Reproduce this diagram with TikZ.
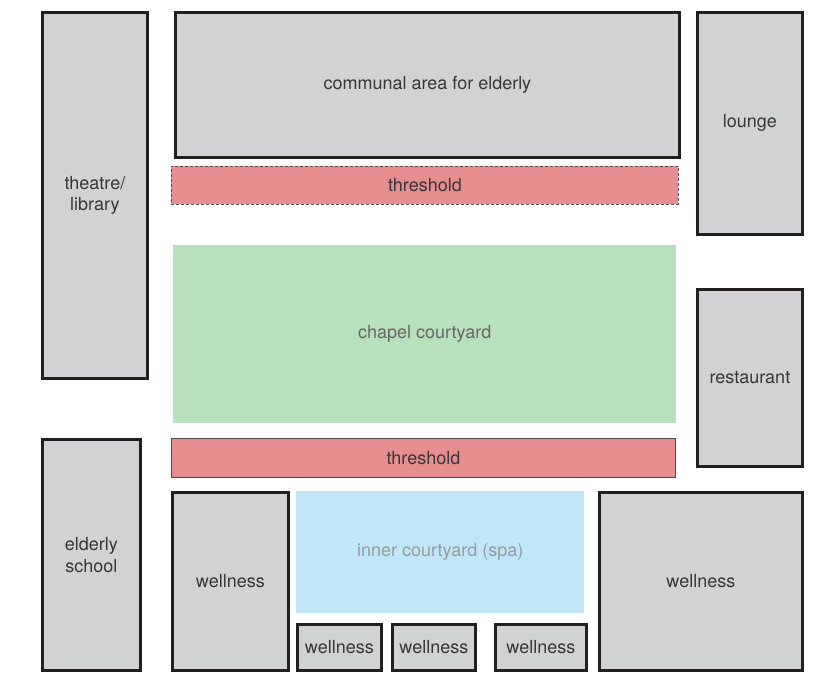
\documentclass[tikz,border=0pt]{standalone}
\usepackage{fontspec}
\setmainfont{TeX Gyre Heros}
\definecolor{roomgray}{HTML}{D1D2D4}
\definecolor{roomline}{HTML}{231F20}
\definecolor{threshred}{HTML}{E68D8F}
\definecolor{chapelgreen}{HTML}{B8E0BA}
\definecolor{spablue}{HTML}{C0E6F8}
\tikzset{
  room/.style={draw=roomline, line width=2.8pt, fill=roomgray, text=roomline!90, anchor=north west, inner sep=0pt, align=center, font=\fontsize{18}{21.5}\selectfont},
  thresh/.style={draw=roomline!80, line width=0.8pt, fill=threshred, text=roomline!90, anchor=north west, inner sep=0pt, font=\fontsize{18}{21.5}\selectfont},
  court/.style={anchor=north west, inner sep=0pt, font=\fontsize{18}{21.5}\selectfont}
}
\begin{document}
\begin{tikzpicture}[x=1pt,y=-1pt]
\useasboundingbox (0,0) rectangle (831,674);

% left column
\node[room, minimum width=105, minimum height=366] (theatre) at (41,11) {theatre/\\library};
\node[room, minimum width=98, minimum height=231] (school) at (41,438) {elderly\\school};

% top row
\node[room, minimum width=504, minimum height=145] (communal) at (174,11) {communal area for elderly};
\node[room, minimum width=105, minimum height=222] (lounge) at (696,11) {lounge};
\node[thresh, dash pattern=on 3pt off 2pt, minimum width=507, minimum height=38] (threshtop) at (171,166) {threshold};

% middle
\node[court, fill=chapelgreen, text=black!60, minimum width=503, minimum height=178] (chapel) at (173,245) {chapel courtyard};
\node[room, minimum width=105, minimum height=177] (restaurant) at (696,288) {restaurant};
\node[thresh, minimum width=504, minimum height=39] (threshbot) at (171,438) {threshold};

% spa block
\node[room, minimum width=116, minimum height=178] (wellA) at (171,491) {wellness};
\node[court, fill=spablue, text=black!40, minimum width=288, minimum height=122] (spa) at (296,491) {inner courtyard (spa)};
\node[room, minimum width=203, minimum height=178] (wellB) at (598,491) {wellness};
\node[room, minimum width=84, minimum height=46] (wellC) at (296,623) {wellness};
\node[room, minimum width=83, minimum height=46] (wellD) at (391,623) {wellness};
\node[room, minimum width=91, minimum height=46] (wellE) at (494,623) {wellness};

\end{tikzpicture}
\end{document}
